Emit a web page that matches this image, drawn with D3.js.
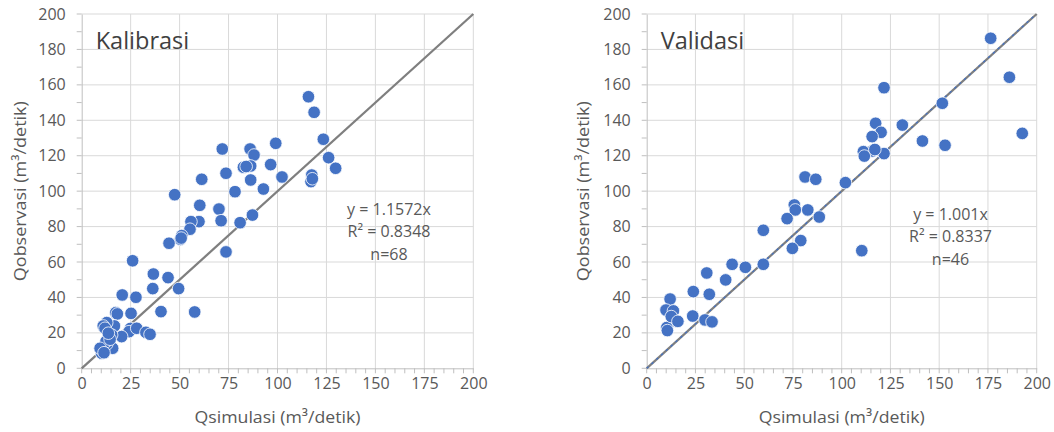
<!DOCTYPE html>
<html><head><meta charset="utf-8">
<script src="https://cdn.jsdelivr.net/npm/d3@7"></script>
<style>html,body{margin:0;padding:0;background:#fff;}svg{display:block;font-family:"Open Sans",sans-serif;}</style>
</head><body>
<svg id="chart" width="1054" height="432"></svg>
<script>
// ---- data ----
const kalibrasiSim = [115.8,118.7,123.4,126.1,129.7,117.5,117.1,99.1,96.5,92.8,102.3,86.0,88.0,82.6,86.3,86.3,87.2,80.9,78.3,71.8,73.7,70.1,71.2,73.7,61.3,60.3,59.9,55.8,55.3,57.7,47.5,51.1,50.4,44.6,49.5,44.1,36.6,36.3,40.5,26.0,27.7,20.7,25.2,17.4,18.2,16.7,12.8,11.0,11.9,24.9,24.2,28.1,32.8,34.9,20.4,15.3,15.8,12.8,9.7,10.2,12.4,14.5,9.4,11.4,13.6,84.0,50.8,117.8];
const kalibrasiObs = [153.3,144.5,129.3,118.9,112.9,109.1,105.4,127.0,115.0,101.2,108.0,123.8,120.4,113.5,114.2,106.3,86.5,82.2,99.7,123.8,110.1,89.9,83.3,65.7,106.7,92.0,82.8,82.8,78.5,31.8,98.0,74.9,72.8,70.6,45.0,51.2,53.2,45.0,32.0,60.7,40.1,41.4,31.0,31.4,30.7,23.9,25.8,23.9,22.6,22.5,20.7,22.6,20.3,19.2,17.9,18.8,11.3,13.7,10.7,8.5,15.1,16.4,11.3,8.8,19.8,113.9,73.5,107.0];
const validasiSim = [176.4,186.0,192.6,151.6,153.0,141.4,131.1,121.7,117.4,120.2,115.6,115.7,121.7,111.1,111.6,110.3,101.9,81.2,86.7,75.7,76.2,82.6,72.0,88.5,79.0,74.7,59.8,59.8,50.6,43.8,40.5,30.8,32.1,23.9,23.6,29.9,33.5,12.0,9.9,13.7,14.7,10.3,10.6,12.6,16.0,117.0];
const validasiObs = [186.3,164.3,132.6,149.6,125.9,128.3,137.3,158.4,138.3,133.2,130.8,122.7,121.2,122.3,119.8,66.4,104.8,108.0,106.7,92.2,89.4,89.4,84.5,85.4,72.1,67.7,77.9,58.7,57.0,58.7,49.9,53.8,41.8,43.3,29.5,27.3,26.2,39.1,32.9,32.4,26.7,23.0,21.3,29.2,26.5,123.5];
const xTicks = [0,25,50,75,100,125,150,175,200];
const yTicks = [0,20,40,60,80,100,120,140,160,180,200];
const panelTitles = ["Kalibrasi","Validasi"];
const eqLabels = [["y = 1.1572x","R² = 0.8348","n=68"],["y = 1.001x","R² = 0.8337","n=46"]];
const trendSlopes = [null, 1.001];
const xTitle = "Qsimulasi (m³/detik)";
const yTitle = "Qobservasi (m³/detik)";

const svg = d3.select("#chart");
const panels = [
  {x0:81.7, x1:473.3, sim:kalibrasiSim, obs:kalibrasiObs, eqX:389, ylabX:20},
  {x0:646.7, x1:1036.7, sim:validasiSim, obs:validasiObs, eqX:950.5, ylabX:583}
];
const yTop = 14, yBot = 368.3;
const textCol = "#595959";

panels.forEach((p, i) => {
  const x = d3.scaleLinear().domain([0,200]).range([p.x0, p.x1]);
  const y = d3.scaleLinear().domain([0,200]).range([yBot, yTop]);
  const g = svg.append("g");

  g.append("g").selectAll("line").data(xTicks.slice(1)).join("line")
    .attr("x1", d=>x(d)).attr("x2", d=>x(d)).attr("y1", yTop).attr("y2", yBot)
    .attr("stroke", "#d9d9d9").attr("stroke-width", 1);
  g.append("g").selectAll("line").data(yTicks.slice(1)).join("line")
    .attr("y1", d=>y(d)).attr("y2", d=>y(d)).attr("x1", x(0)).attr("x2", x(200))
    .attr("stroke", "#d9d9d9").attr("stroke-width", 1);

  const xAxis = d3.axisBottom(x).tickValues(xTicks).tickSize(0).tickPadding(9);
  const gx = g.append("g").attr("transform", `translate(0,${yBot})`).call(xAxis);
  gx.select(".domain").attr("stroke", "#bfbfbf");
  gx.selectAll("text").attr("fill", textCol).style("font-size","16px").style("font-family","Open Sans");
  const xMinor = d3.range(0, 201, 5);
  g.append("g").selectAll("line").data(xMinor).join("line")
    .attr("x1", d=>x(d)).attr("x2", d=>x(d)).attr("y1", yBot).attr("y2", yBot+5)
    .attr("stroke", "#bfbfbf");

  const yAxis = d3.axisLeft(y).tickValues(yTicks).tickSize(0).tickPadding(16);
  const gy = g.append("g").attr("transform", `translate(${x(0)},0)`).call(yAxis);
  gy.select(".domain").attr("stroke", "#bfbfbf");
  gy.selectAll("text").attr("fill", textCol).style("font-size","16px").style("font-family","Open Sans");
  const yMinor = d3.range(0, 201, 10);
  g.append("g").selectAll("line").data(yMinor).join("line")
    .attr("y1", d=>y(d)).attr("y2", d=>y(d)).attr("x1", x(0)-5).attr("x2", x(0))
    .attr("stroke", "#bfbfbf");

  g.append("line").attr("x1", x(0)).attr("y1", y(0)).attr("x2", x(200)).attr("y2", y(200))
    .attr("stroke", "#7f7f7f").attr("stroke-width", 2.25);
  if (trendSlopes[i] !== null) {
    const s = trendSlopes[i];
    g.append("line").attr("x1", x(0)).attr("y1", y(0)).attr("x2", x(200/s)).attr("y2", y(200))
      .attr("stroke", "#4472C4").attr("stroke-width", 1.25).attr("stroke-dasharray", "2.5,4");
  }

  g.append("g").selectAll("circle").data(d3.range(p.sim.length)).join("circle")
    .attr("cx", k=>x(p.sim[k])).attr("cy", k=>y(p.obs[k])).attr("r", 6.3)
    .attr("fill", "#4472C4").attr("stroke", "#ffffff").attr("stroke-width", 0.8);

  g.append("text").attr("x", x(0)+14).attr("y", 49).text(panelTitles[i])
    .attr("fill", "#404040").style("font-size","23.5px");

  g.append("text").attr("text-anchor","middle").attr("fill", textCol).style("font-size","16px")
    .selectAll("tspan").data(eqLabels[i]).join("tspan")
    .attr("x", p.eqX).attr("y", (d,k)=> (i===0?214.5:219.5) + k*22.5).text(d=>d);

  g.append("text").attr("x", (x(0)+x(200))/2).attr("y", 423).attr("text-anchor","middle")
    .attr("fill", textCol).style("font-size","17px")
    .attr("textLength", 166).attr("lengthAdjust", "spacingAndGlyphs").text(xTitle);
  g.append("text").attr("transform", `translate(${p.ylabX+6},${(yTop+yBot)/2}) rotate(-90)`)
    .attr("text-anchor","middle").attr("fill", textCol).style("font-size","17px")
    .attr("textLength", 180).attr("lengthAdjust", "spacingAndGlyphs").text(yTitle);
});
</script>
</body></html>
